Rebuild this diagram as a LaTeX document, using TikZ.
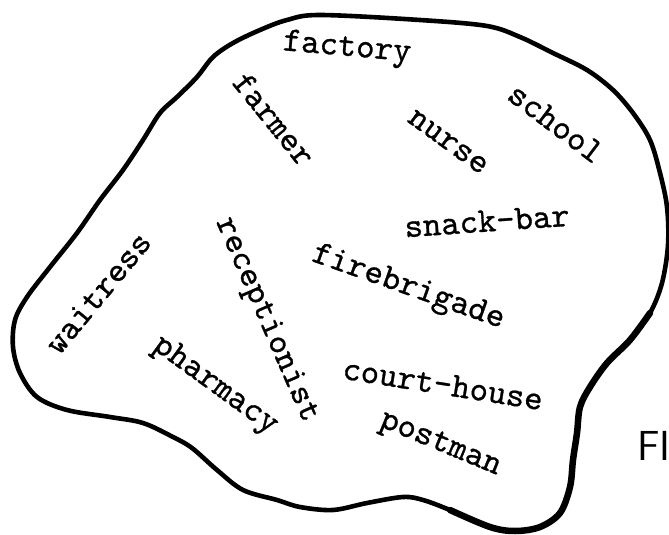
\documentclass[tikz,border=0pt]{standalone}
\usepackage{fontspec}
\newfontfamily\typewriter[FakeBold=0.8]{lmmono10-regular.otf}
\begin{document}
\begin{tikzpicture}[x=1pt,y=-1pt,
  word/.style={font=\typewriter\fontsize{35}{35}\selectfont, inner sep=0pt, text=black},
  blob/.style={draw=black, line width=4.6pt, line join=round, line cap=round},
  figlabel/.style={font=\sffamily\fontsize{42}{42}\selectfont, inner sep=0pt, anchor=base west}]
\useasboundingbox (0,0) rectangle (669,535);
% outline of the region
\draw[blob] plot[smooth cycle, tension=0.55] coordinates {
 (320,15) (420,20) (487,26) (520,37) (553,53) (587,70) (613,90) (633,113)
 (650,140) (660,173) (667,207) (668,245) (662,283) (650,313) (630,340)
 (607,363) (590,387) (580,407) (577,433) (573,460) (570,487) (560,513)
 (540,527) (515,531) (490,527) (450,510) (423,500) (403,497) (367,503)
 (333,510) (300,507) (277,500) (243,490) (217,470) (192,448) (173,437)
 (143,423) (110,417) (67,410) (37,397) (20,373) (13,347) (15,320)
 (27,297) (50,267) (77,233) (100,200) (123,170) (143,140) (160,113)
 (177,97) (197,77) (213,57) (233,43) (260,30) (287,20)};
% thicker lower right stretch
\draw[draw=black, line width=6.5pt, line cap=round] plot[smooth, tension=0.55] coordinates {
 (650,313) (630,340) (607,363) (590,387) (580,407) (577,433) (573,460)
 (570,487) (560,513) (540,527) (515,531) (490,527) (450,510)};
% words
\node[word, rotate=-5]   (factory)      at (347,49)  {factory};
\node[word, rotate=-51]  (farmer)       at (274,119) {farmer};
\node[word, rotate=-36]  (nurse)        at (448,142) {nurse};
\node[word, rotate=-37]  (school)       at (556,123) {school};
\node[word, rotate=4]    (snackbar)     at (487,221) {snack-bar};
\node[word, rotate=-19.5](firebrigade)  at (408,288) {firebrigade};
\node[word, rotate=-9]   (courthouse)   at (443,384) {court-house};
\node[word, rotate=-22.5](postman)      at (440,445) {postman};
\node[word, rotate=50.5] (waitress)     at (98,293)  {waitress};
\node[word, rotate=-66.5](receptionist) at (266,320) {receptionist};
\node[word, rotate=-36]  (pharmacy)     at (215,386) {pharmacy};
\node[figlabel] (fig) at (637,460) {FI};
\end{tikzpicture}
\end{document}
